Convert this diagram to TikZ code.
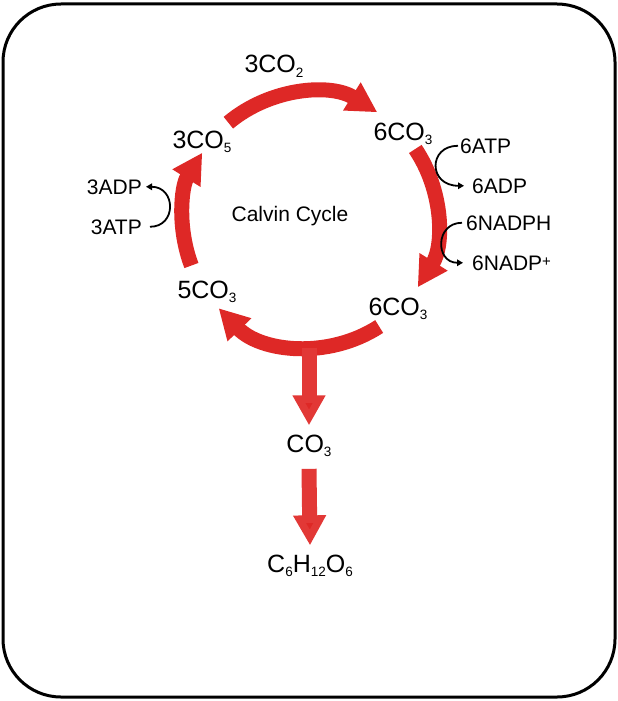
\documentclass[tikz,border=0pt]{standalone}
\usepackage{fontspec}
\setmainfont{Liberation Sans}
\usetikzlibrary{arrows.meta}
\definecolor{cyc}{RGB}{222,40,38}
\definecolor{stem}{RGB}{226,56,54}
\newcommand{\chemsub}[1]{\raisebox{-4.5pt}{\fontsize{13.5}{14}\selectfont #1}}
\newcommand{\chemsup}[1]{\raisebox{4pt}{\fontsize{15}{15}\selectfont #1}}
\begin{document}
\begin{tikzpicture}[x=1pt,y=-1pt,
  cycarrow/.style={draw=cyc,line width=15pt,-{Triangle[length=30pt,width=31pt]}},
  stemarrow/.style={draw=stem,line width=15pt,-{Triangle[length=30pt,width=31pt,fill=cyc]}},
  co/.style={anchor=base,inner sep=0pt,font=\fontsize{25}{29}\selectfont},
  sm/.style={inner sep=0pt,font=\fontsize{21}{25}\selectfont},
  thinarrow/.style={draw=black,line width=1.8pt,-{Triangle[length=6pt,width=6.5pt]}}]
\useasboundingbox (0,0) rectangle (618,701);
\draw[line width=3pt,rounded corners=58pt] (3,4) rectangle (615,697);
\coordinate (C) at (310,220);
% cycle arcs
\draw[cycarrow] ([shift={(130:127pt)}]C) arc[start angle=130,end angle=58,radius=127pt];
\draw[cycarrow] ([shift={(34:127pt)}]C) arc[start angle=34,end angle=-32,radius=127pt];
\draw[cycarrow] ([shift={(-57:127pt)}]C) arc[start angle=-57,end angle=-136,radius=127pt];
\draw[cycarrow] ([shift={(201:127pt)}]C) arc[start angle=201,end angle=148,radius=127pt];
% labels
\node[co] (co2) at (274,73) {3CO\chemsub{2}};
\node[co] (co5) at (202,148) {3CO\chemsub{5}};
\node[co] (co3a) at (403,140) {6CO\chemsub{3}};
\node[co] (co3b) at (398,315) {6CO\chemsub{3}};
\node[co] (co3c) at (207,298) {5CO\chemsub{3}};
\node[co] (co3) at (309,452) {CO\chemsub{3}};
\node[co] (gluc) at (310,572) {C\chemsub{6}H\chemsub{12}O\chemsub{6}};
\node[anchor=base,inner sep=0pt,font=\fontsize{21}{25}\selectfont] (title) at (290,221) {Calvin Cycle};
\node[sm,anchor=base west] (atp6) at (460,153) {6ATP};
\node[sm,anchor=base west] (adp6) at (472,193) {6ADP};
\node[sm,anchor=base west] (nadph6) at (466,230) {6NADPH};
\node[sm,anchor=base west] (nadp6) at (472,270) {6NADP\chemsup{+}};
\node[sm,anchor=base east] (adp3) at (142,194) {3ADP};
\node[sm,anchor=base east] (atp3) at (142,234) {3ATP};
% side reactions
\draw[thinarrow] ([xshift=-2pt]atp6.west) .. controls +(-30,0) and +(-36,0) .. ([xshift=-8pt]adp6.west);
\draw[thinarrow] ([xshift=-4pt]nadph6.west) .. controls +(-27,0) and +(-28,0) .. ([xshift=-9pt]nadp6.west);
\draw[thinarrow] ([xshift=8pt]atp3.east) .. controls +(27,0) and +(30,0) .. ([xshift=4pt]adp3.east);
% output arrows
\coordinate (out) at (309,348);
\draw[stemarrow] (out) -- ([yshift=9pt]co3.north);
\draw[stemarrow] ([yshift=-12pt]co3.south) -- ([yshift=9pt]gluc.north);
\end{tikzpicture}
\end{document}
